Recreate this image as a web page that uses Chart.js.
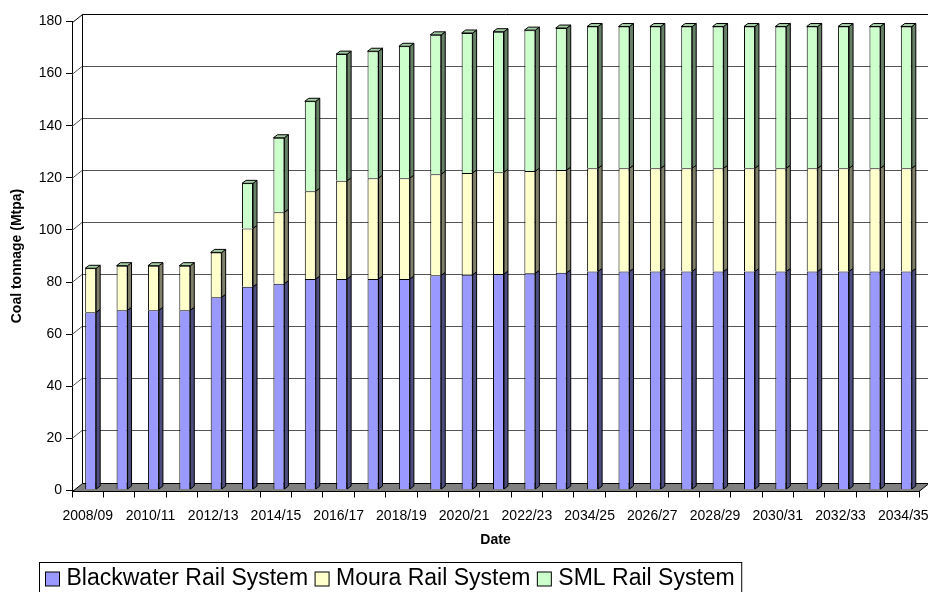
<!DOCTYPE html>
<html>
<head>
<meta charset="utf-8">
<script src="https://cdn.jsdelivr.net/npm/chart.js@4.4.0/dist/chart.umd.min.js"></script>
<style>
  html, body { margin: 0; padding: 0; background: #fff; }
  #wrap { width: 928px; height: 592px; }
</style>
</head>
<body>
<div id="wrap"><canvas id="coal-chart" width="928" height="592"></canvas></div>
<script>
// financial years (label at index 16 is printed as "2034/25" on the original)
const years = [
  "2008/09", "2009/10", "2010/11", "2011/12", "2012/13", "2013/14", "2014/15",
  "2015/16", "2016/17", "2017/18", "2018/19", "2019/20", "2020/21", "2021/22",
  "2022/23", "2023/24", "2034/25", "2025/26", "2026/27", "2027/28", "2028/29",
  "2029/30", "2030/31", "2031/32", "2032/33", "2033/34", "2034/35"
];

// Mtpa
const blackwater = [
  68.0, 68.8, 68.8, 68.8, 73.8, 77.8, 79.0, 80.8, 80.8, 80.8, 80.8, 82.2, 82.4, 82.7,
  83.0, 83.2, 83.7, 83.7, 83.7, 83.7, 83.7, 83.7, 83.7, 83.7, 83.7, 83.7, 83.7
];
const moura = [
  16.9, 17.1, 17.1, 17.1, 17.2, 22.4, 27.4, 33.7, 37.7, 38.7, 38.7, 38.8, 39.1, 39.1,
  39.2, 39.4, 39.6, 39.6, 39.6, 39.6, 39.6, 39.6, 39.6, 39.6, 39.6, 39.6, 39.6
];
const sml = [
  0, 0, 0, 0, 0, 17.3, 28.6, 34.5, 48.6, 48.7, 50.6, 53.5, 53.7, 53.9,
  54.1, 54.5, 54.4, 54.4, 54.4, 54.4, 54.4, 54.4, 54.4, 54.4, 54.4, 54.4, 54.4
];
const seriesNames = ["Blackwater Rail System", "Moura Rail System", "SML Rail System"];

const FONT = "'Liberation Sans', Arial, sans-serif";
const WALL = { dx: 10, dy: 8 };
const BAR = { dx: 4, dy: 3, shiftX: 3, shiftY: -1 };
const faces = [
  { front: "#9999FF", side: "#4D4D80" },
  { front: "#FFFFCC", side: "#80806A" },
  { front: "#CCFFCC", side: "#668066", top: "#A3CCA3" }
];

function poly(ctx, pts, fill) {
  ctx.beginPath();
  ctx.moveTo(pts[0][0], pts[0][1]);
  for (let i = 1; i < pts.length; i++) ctx.lineTo(pts[i][0], pts[i][1]);
  ctx.closePath();
  if (fill) { ctx.fillStyle = fill; ctx.fill(); }
  ctx.stroke();
}

// walls, floor and bar sides for the excel-like 3d look
const threeD = {
  id: "threeD",
  beforeDatasetsDraw(chart) {
    const { ctx, chartArea: a, scales: { y } } = chart;
    const { dx, dy } = WALL;
    ctx.save();
    ctx.lineWidth = 1;

    // back wall gridlines, bent across the left wall
    ctx.strokeStyle = "#555";
    y.ticks.forEach((t) => {
      if (t.value <= 0 || t.value >= 180) return;
      const py = Math.round(y.getPixelForValue(t.value)) + 0.5;
      ctx.beginPath();
      ctx.moveTo(a.left, py);
      ctx.lineTo(a.left + dx, py - dy);
      ctx.lineTo(a.right + dx, py - dy);
      ctx.stroke();
    });

    // wall outline
    ctx.strokeStyle = "#000";
    const top = Math.round(a.top) + 0.5;
    const bot = Math.round(a.bottom) + 0.5;
    const l = Math.round(a.left) + 0.5;
    ctx.beginPath();
    ctx.moveTo(l, top);
    ctx.lineTo(l + dx, top - dy);
    ctx.lineTo(a.right + dx + 2, top - dy);
    ctx.moveTo(l + dx, top - dy);
    ctx.lineTo(l + dx, bot - dy);
    ctx.stroke();

    // floor
    poly(ctx, [[l, bot], [a.right, bot], [a.right + dx, bot - dy], [l + dx, bot - dy]], "#808080");
    ctx.restore();

    ctx.save();
    ctx.translate(BAR.shiftX, BAR.shiftY);
  },
  afterDatasetsDraw(chart) {
    const { ctx } = chart;
    const { dx, dy } = BAR;
    const metas = chart.data.datasets.map((d, i) => chart.getDatasetMeta(i));
    ctx.lineWidth = 1;
    ctx.strokeStyle = "#000";
    for (let i = 0; i < chart.data.labels.length; i++) {
      let topY = Infinity, topX = 0, topW = 0;
      metas.forEach((m, d) => {
        const { x, y, base, width } = m.data[i].getProps(["x", "y", "base", "width"], true);
        const xr = x + width / 2;
        if (Math.abs(base - y) > 0.5) {
          poly(ctx, [[xr, y], [xr + dx, y - dy], [xr + dx, base - dy], [xr, base]], faces[d].side);
        }
        if (y < topY) { topY = y; topX = x; topW = width; }
      });
      const xl = topX - topW / 2, xr = topX + topW / 2;
      poly(ctx, [[xl, topY], [xl + dx, topY - dy], [xr + dx, topY - dy], [xr, topY]], faces[2].top);
    }
    ctx.restore();
  },
  afterDraw(chart) {
    // boxed legend, bottom left
    const { ctx } = chart;
    ctx.save();
    ctx.font = "23px " + FONT;
    ctx.textBaseline = "middle";
    ctx.lineWidth = 1;
    ctx.strokeStyle = "#000";
    let x = 45.5;
    const cy = 579;
    seriesNames.forEach((name, i) => {
      ctx.fillStyle = faces[i].front;
      ctx.fillRect(x, cy - 7, 14, 14);
      ctx.strokeRect(x, cy - 7, 14, 14);
      x += 21;
      ctx.fillStyle = "#000";
      ctx.fillText(name, x, cy);
      x += ctx.measureText(name).width + 7;
    });
    ctx.strokeRect(39.5, 562.5, x - 39.5, 40);
    ctx.restore();
  }
};

new Chart(document.getElementById("coal-chart"), {
  type: "bar",
  data: {
    labels: years,
    datasets: [blackwater, moura, sml].map((vals, i) => ({
      label: seriesNames[i],
      data: vals,
      backgroundColor: faces[i].front,
      borderColor: "#000",
      borderWidth: 1,
      barPercentage: 0.35,
      categoryPercentage: 1
    }))
  },
  options: {
    responsive: false,
    animation: false,
    layout: { padding: { top: 21.5, right: 9, bottom: 31.5, left: 0 } },
    plugins: { legend: { display: false }, tooltip: { enabled: false } },
    scales: {
      x: {
        stacked: true,
        grid: { offset: true, drawOnChartArea: false, tickLength: 7, color: "#000" },
        border: { color: "#000" },
        ticks: {
          autoSkip: false, maxRotation: 0, minRotation: 0, padding: 10,
          color: "#000", font: { family: FONT, size: 14 },
          callback: (v, i) => (i % 2 === 0 ? years[i] : "")
        },
        title: {
          display: true, text: "Date", color: "#000",
          font: { family: FONT, size: 14, weight: "bold" },
          padding: { top: 0, bottom: 12 }
        },
        afterFit: (s) => { s.height = 70; s.paddingLeft = 0; s.paddingRight = 0; }
      },
      y: {
        stacked: true,
        min: 0,
        max: 180,
        grid: { drawOnChartArea: false, tickLength: 6, color: "#000" },
        border: { color: "#000" },
        ticks: { stepSize: 20, padding: 4, color: "#000", font: { family: FONT, size: 14 } },
        title: {
          display: true, text: "Coal tonnage (Mtpa)", color: "#000",
          font: { family: FONT, size: 14, weight: "bold" },
          padding: { top: 9, bottom: 0 }
        },
        afterFit: (s) => { s.width = 72; }
      }
    }
  },
  plugins: [threeD]
});
</script>
</body>
</html>
